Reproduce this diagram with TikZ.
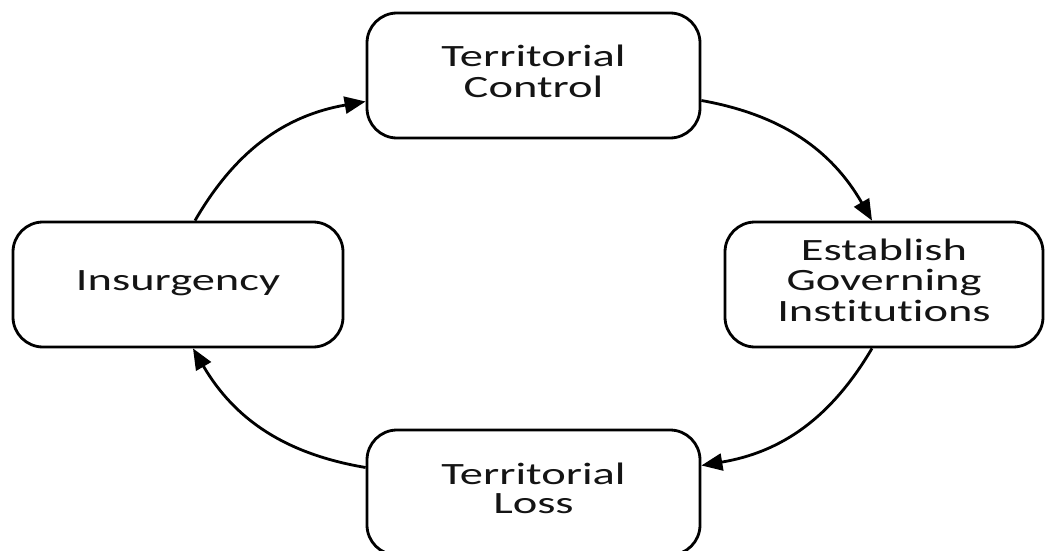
\documentclass[tikz,border=0pt]{standalone}
\usepackage{fontspec}
\usepackage{graphicx}
\setmainfont[Ligatures=NoCommon]{Carlito}
\usetikzlibrary{arrows.meta}
\newcommand{\widetext}[1]{\scalebox{1.5}[1]{\begin{tabular}{@{}c@{}}#1\end{tabular}}}
\tikzset{
  stagebox/.style={draw=black, line width=2.8pt, fill=white, rounded corners=30pt,
    inner sep=0pt, minimum height=125pt, text=black!92,
    font=\fontsize{31}{29.5}\selectfont},
  cyclearrow/.style={line width=2.8pt, -{Triangle[length=21pt,width=17pt]}, bend left=25}
}
\begin{document}
\begin{tikzpicture}[x=1pt,y=1pt]
\useasboundingbox (0,0) rectangle (1045,-551);
\clip (0,0) rectangle (1045,-551);
\fill[white] (0,0) rectangle (1045,-551);
\node[stagebox, minimum width=333pt] (top) at (533.5,-75.5) {\widetext{Territorial\\Control}};
\node[stagebox, minimum width=318pt] (est) at (884,-284.5) {\raisebox{-3pt}{\widetext{Establish\\Governing\\Institutions}}};
\node[stagebox, minimum width=330pt] (ins) at (178,-284.5) {\widetext{Insurgency}};
\node[stagebox, minimum width=333pt] (loss) at (533.5,-492.5) {\widetext{Territorial\\Loss}};
\draw[cyclearrow] ([xshift=17pt]ins.north) to ([yshift=-26pt]top.west);
\draw[cyclearrow] ([yshift=-25pt]top.east) to ([xshift=-12pt]est.north);
\draw[cyclearrow] ([xshift=-12pt]est.south) to ([yshift=27pt]loss.east);
\draw[cyclearrow] ([yshift=25pt]loss.west) to ([xshift=15pt]ins.south);
\end{tikzpicture}
\end{document}
